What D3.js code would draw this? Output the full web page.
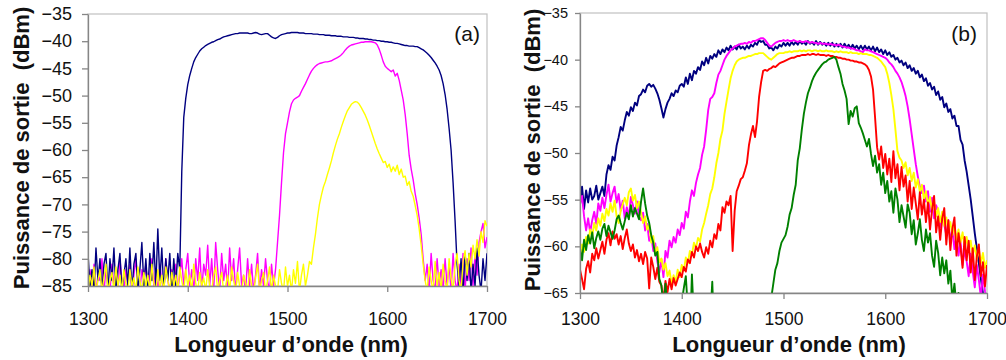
<!DOCTYPE html>
<html>
<head>
<meta charset="utf-8">
<script src="https://cdn.jsdelivr.net/npm/d3@7/dist/d3.min.js"></script>
<style>
  body { margin: 0; background: #fff; }
  svg { display: block; font-family: Arial, "Liberation Sans", sans-serif; }
</style>
</head>
<body>
<script>
// wavelength grid (nm), one reading every 2 nm
const wavelengths = d3.range(1300, 1701, 2);

// panel (a) spectra, dBm
const navyA = [
  -79, -85, -82, -86, -78, -84, -80, -86, -81, -79,
  -86, -80, -84, -78, -86, -82, -79, -86, -83, -80,
  -85, -78, -86, -81, -79, -86, -82, -77, -85, -80,
  -86, -79, -84, -77, -85, -74.5, -84, -78, -86, -80,
  -84, -79, -86, -80, -85, -79, -82, -64, -54, -50.5,
  -48, -46.3, -45, -43.8, -43, -42.4, -41.8, -41.4, -41.1, -40.8,
  -40.6, -40.4, -40.2, -40.1, -39.9, -39.7, -39.6, -39.4, -39.2, -39.1,
  -39.0, -38.9, -38.8, -38.7, -38.6, -38.6, -38.5, -38.5, -38.5, -38.5,
  -38.5, -38.6, -38.6, -38.5, -38.4, -38.5, -38.7, -38.8, -38.7, -38.6,
  -38.6, -38.9, -39.2, -39.4, -39.5, -39.3, -39.0, -38.8, -38.7, -38.6,
  -38.5, -38.5, -38.4, -38.4, -38.4, -38.4, -38.5, -38.5, -38.5, -38.6,
  -38.6, -38.6, -38.6, -38.7, -38.7, -38.7, -38.8, -38.8, -38.8, -38.9,
  -38.9, -38.9, -39.0, -39.0, -39.0, -39.1, -39.1, -39.1, -39.2, -39.2,
  -39.2, -39.3, -39.3, -39.3, -39.4, -39.4, -39.5, -39.5, -39.5, -39.6,
  -39.6, -39.7, -39.7, -39.8, -39.8, -39.9, -39.9, -40.0, -40.0, -40.1,
  -40.1, -40.2, -40.2, -40.3, -40.4, -40.4, -40.5, -40.6, -40.7, -40.8,
  -40.8, -40.9, -40.9, -40.9, -41.0, -41.0, -41.2, -41.4, -41.6, -41.9,
  -42.2, -42.6, -43.0, -43.5, -44.0, -44.6, -45.3, -46.3, -47.8, -49.8,
  -52.5, -56, -60, -66, -73, -81, -85, -80, -86, -79,
  -84, -79, -86, -81, -85, -78, -83, -86, -80, -84,
  -79
];
const magentaA = [
  -86, -82, -85, -81, -86, -83, -84, -80, -86, -82,
  -84, -86, -81, -85, -83, -86, -80, -84, -86, -82,
  -85, -81, -86, -83, -80, -85, -86, -82, -84, -81,
  -86, -83, -80, -85, -82, -86, -81, -84, -86, -80,
  -84, -86, -82, -85, -81, -86, -83, -80, -85, -82,
  -79, -85, -82, -86, -80, -84, -78, -86, -81, -83,
  -77.5, -85, -80, -86, -77, -82, -86, -79, -84, -81,
  -86, -78, -84, -80, -86, -82, -78, -85, -83, -86,
  -80, -85, -81, -86, -83, -79, -86, -82, -85, -80,
  -84, -86, -81, -85, -82, -77, -72, -66, -60.5, -57,
  -55, -53, -51.5, -50.8, -50.5, -50.3, -50, -49.2, -48.5, -47.8,
  -47, -46.2, -45.5, -45, -44.6, -44.3, -44.1, -44, -43.9, -43.8,
  -43.8, -43.7, -43.6, -43.4, -43.2, -43, -42.8, -42.5, -42.1, -41.6,
  -41.2, -40.9, -40.7, -40.6, -40.5, -40.4, -40.3, -40.2, -40.2, -40.1,
  -40.1, -40.1, -40.1, -40.2, -40.3, -40.7, -41.5, -42.6, -43.8, -44.6,
  -45.0, -45.3, -45.6, -45.3, -46.4, -45.9, -47.2, -49, -50.8, -53.5,
  -57, -61, -63.5, -65.5, -68, -70, -72.5, -75.5, -80, -84,
  -81, -86, -79, -84, -86, -80, -85, -82, -86, -80,
  -85, -81, -86, -79, -84, -86, -81, -85, -79, -86,
  -80, -84, -78, -85, -79, -83, -77, -75, -73.5, -78,
  -76
];
const yellowA = [
  -86, -83, -85, -81.5, -86, -84, -82, -86, -83.5, -81,
  -86, -84, -82.5, -86, -81.5, -85, -83, -86, -82, -84.5,
  -86, -82, -85, -83.5, -86, -81.5, -84, -86, -82.5, -85,
  -83, -86, -81, -84.5, -86, -82, -85.5, -83, -86, -81.5,
  -84, -86, -82.5, -85, -83, -86, -81.5, -84, -86, -82,
  -85, -83, -86, -81, -84.5, -86, -82.5, -85, -83.5, -86,
  -82, -85, -86, -83, -81.5, -86, -84, -82.5, -86, -85,
  -83, -86, -81.5, -84, -86, -82.5, -85, -86, -83, -84.5,
  -86, -82, -85, -86, -83.5, -81, -86, -84, -82.5, -86,
  -84, -81.5, -86, -83, -85, -86, -82, -84.5, -86, -81.5,
  -85, -83, -86, -82, -84.5, -80.5, -86, -83, -81, -85,
  -83, -80.5, -81, -78, -75.5, -72.5, -70, -68.3, -66.8, -65.8,
  -64.5, -63.3, -62, -60.5, -59.2, -58, -57, -55.8, -54.7, -53.7,
  -52.8, -52.2, -51.6, -51.3, -51.1, -51.2, -51.6, -52.2, -52.9, -53.6,
  -54.5, -55.5, -56.6, -57.7, -58.8, -59.8, -60.7, -61.5, -62.3, -62.1,
  -63.2, -62.6, -64, -63.1, -63.9, -62.8, -64.5, -63.5, -65, -64.8,
  -66.5, -65.8, -67.6, -68.5, -70.2, -72, -74.5, -77.5, -81, -84,
  -86, -81.5, -84, -86, -80.5, -85, -82.5, -86, -81, -84,
  -86, -80, -83.5, -86, -81, -79, -84, -86, -80.5, -78.5,
  -83, -79, -81.5, -77.5, -80, -76.5, -79.5, -75, -77, -73,
  -74
];

// panel (b) spectra, dBm
const navyB = [
  -55.5, -53.6, -56, -54, -55.3, -53.8, -55, -54.6, -53.5, -55,
  -54.3, -53.6, -54.6, -52.3, -51.3, -51.8, -50.4, -50.8, -49.2, -48.3,
  -47.2, -47.6, -46.5, -45.6, -46, -45.1, -45.5, -44.6, -44.9, -43.9,
  -43.7, -43.2, -43.5, -42.8, -42.6, -42.9, -42.7, -43.1, -43.6, -44.3,
  -45.2, -46.2, -45.3, -44.6, -44.2, -43.6, -43.9, -43.3, -43.5, -42.8,
  -42.6, -42.9, -41.9, -42.6, -41.5, -42.2, -41.2, -41.5, -40.8, -41.1,
  -40.2, -40.6, -39.8, -40.4, -39.6, -39.9, -39.4, -39.7, -39.0, -39.4,
  -38.9, -39.2, -38.7, -39.0, -38.5, -38.9, -38.6, -38.9, -38.4, -38.8,
  -38.6, -38.9, -38.5, -38.8, -38.4, -38.6, -38.2, -38.4, -37.9, -38.1,
  -38.0, -38.4, -38.4, -38.8, -38.7, -39.0, -38.6, -38.8, -38.4, -38.6,
  -38.2, -38.5, -38.2, -38.5, -38.1, -38.4, -38.1, -38.4, -38.0, -38.3,
  -38.1, -38.4, -38.0, -38.3, -38.1, -38.4, -38.0, -38.4, -38.1, -38.4,
  -38.2, -38.5, -38.2, -38.5, -38.2, -38.6, -38.3, -38.6, -38.3, -38.7,
  -38.3, -38.7, -38.4, -38.8, -38.4, -38.8, -38.5, -38.9, -38.5, -38.9,
  -38.5, -38.9, -38.6, -39.0, -38.6, -39.1, -38.7, -39.2, -38.9, -39.4,
  -39.0, -39.5, -39.2, -39.7, -39.5, -40.0, -39.8, -40.3, -40.1, -40.6,
  -40.3, -40.9, -40.6, -41.2, -40.9, -41.5, -41.2, -41.9, -41.6, -42.3,
  -42.0, -42.8, -42.5, -43.2, -42.9, -43.8, -43.4, -44.3, -44.0, -45.1,
  -44.7, -45.6, -45.3, -46.3, -46.0, -47.1, -47.1, -48.6, -49.1, -50.8,
  -52, -53.5, -55, -56.8, -58.6, -60.2, -61.8, -63.5, -65, -66.5,
  -68
];
const magentaB = [
  -55.5, -54.6, -56.8, -58.3, -57, -58.5, -57.2, -56.3, -57.6, -55.4,
  -56.2, -54.8, -55.9, -54.5, -53.4, -55.2, -54.3, -53.6, -55.3, -54.4,
  -56.2, -55.1, -57, -55.8, -56.9, -54.7, -55.6, -56.5, -55.2, -56.8,
  -57.2, -56.4, -58.3, -57.6, -59.4, -58.8, -60.5, -59.7, -61.6, -62.8,
  -61.4, -63.3, -60.5, -61.2, -59.4, -60.1, -59, -59.6, -58.2, -58.8,
  -57.5, -58.1, -56.3, -56.9, -55.2, -54, -54.6, -53.2, -52.3, -51.6,
  -50.2, -49.3, -47.5, -45.4, -44.2, -44, -43.6, -42.5, -41.6, -41.2,
  -40.6, -40, -39.6, -39.3, -39, -38.8, -38.6, -38.5, -38.4, -38.3,
  -38.3, -38.2, -38.3, -38.1, -38.2, -38, -38, -37.9, -37.8, -37.7,
  -37.7, -37.9, -38.2, -38.5, -38.6, -38.4, -38.2, -38.1, -38, -38,
  -37.9, -38, -37.9, -38, -38, -37.9, -38, -38.1, -38, -38.1,
  -38.1, -38, -38.1, -38.2, -38.1, -38.2, -38.2, -38.3, -38.2, -38.3,
  -38.3, -38.3, -38.4, -38.3, -38.4, -38.4, -38.5, -38.4, -38.5, -38.6,
  -38.6, -38.7, -38.7, -38.8, -38.8, -38.9, -39, -39, -39.1, -39.2,
  -38.9, -39.0, -39.0, -39.1, -39.2, -39.3, -39.4, -39.5, -39.6, -39.7,
  -39.8, -40.0, -40.3, -40.5, -40.8, -41.2, -41.5, -41.9, -42.4, -43.1,
  -43.9, -45, -46.4, -48, -49.6, -51.2, -52.5, -53.6, -54.3, -53.5,
  -55.2, -54.1, -56.3, -54.8, -57, -55.6, -56.2, -58, -56.5, -57.7,
  -58.8, -57.2, -59.6, -58.1, -60.3, -58.9, -61, -59.5, -62, -60.4,
  -61.6, -63.2, -60.8, -62.7, -64.4, -62, -63.6, -65.5, -63, -64.8,
  -66
];
const yellowB = [
  -61.2, -59.8, -60.6, -59, -59.7, -58.2, -58.9, -57.5, -58.3, -57,
  -57.8, -56.5, -57.3, -56, -56.7, -55.4, -56.3, -55.1, -56.8, -57.5,
  -56.2, -55.5, -54.8, -55.6, -54.2, -53.8, -55.1, -54.5, -55.9, -55.2,
  -56.4, -57.5, -56.8, -58.2, -57.7, -59.6, -58.9, -60.8, -60.1, -61.7,
  -61.3, -62.5, -61.8, -63.2, -62.6, -64, -63.1, -63.8, -62.5, -63.3,
  -62, -62.6, -61.2, -61.8, -60.5, -60.9, -59.6, -60.2, -59.1, -59.5,
  -58.2, -57.5, -56.5, -55.6, -54.4, -53.8, -52.6, -51.1, -50.0, -48.5,
  -47.6, -45.8, -44.5, -43.2, -42, -41.2, -40.6, -40.2, -40, -39.9,
  -39.8, -39.8, -39.7, -39.6, -39.6, -39.5, -39.4, -39.4, -39.3, -39.3,
  -39.3, -39.5, -39.7, -39.9, -40, -39.8, -39.6, -39.4, -39.3, -39.3,
  -39.3, -39.2, -39.2, -39.1, -39.2, -39.1, -39.1, -39.1, -39.0, -39.1,
  -39.0, -39.1, -39.0, -39.0, -39.1, -39.0, -39.0, -39.1, -39.0, -39.1,
  -39.1, -39.0, -39.1, -39.1, -39.1, -39.2, -39.1, -39.2, -39.1, -39.2,
  -39.2, -39.2, -39.3, -39.2, -39.3, -39.3, -39.3, -39.4, -39.3, -39.4,
  -39.4, -39.4, -39.5, -39.5, -39.6, -39.7, -39.8, -40.0, -40.2, -40.5,
  -40.8, -41.5, -42.5, -43.8, -45.3, -47.5, -49.8, -50.5, -50.8, -51.6,
  -51, -52.4, -51.6, -53, -52.1, -53.7, -52.8, -54.2, -53.4, -55,
  -54.1, -55.6, -54.7, -56.3, -55.2, -56.8, -55.9, -57.4, -56.3, -57.8,
  -56.9, -58.3, -57.4, -58.8, -57.7, -59.3, -58.2, -59.6, -58.5, -60.1,
  -59, -60.5, -59.4, -61, -59.9, -61.4, -60.3, -61.8, -60.7, -62.3,
  -61.5
];
const redB = [
  -62.5, -63.5, -64.6, -62.4, -61.6, -62.8, -60.8, -61.5, -60.2, -61.3,
  -60.4, -59.5, -60.8, -59.3, -58.6, -59.9, -58.4, -59.2, -58.7, -59.8,
  -58.9, -60.3, -59.1, -58.2, -59.7, -60.5, -59.8, -61.2, -60.4, -61.6,
  -60.8, -61.9, -60.6, -61.3, -64.5, -61.2, -62.2, -63.5, -62.3, -63.8,
  -64.2, -65.8, -63.7, -64.9, -63.5, -64.6, -63.4, -64.2, -63.5, -62.8,
  -63.3, -62.2, -62.7, -61.4, -61.8, -60.6, -61.2, -60, -60.5, -59.7,
  -60.6, -61.2, -60.1, -60.8, -59.4, -60.1, -58.7, -59.2, -57.6, -58.3,
  -55.8, -56.4, -55.2, -55.6, -54.6, -60.5, -56.2, -54.1, -53.5, -52.8,
  -52.6, -51.9, -51.1, -49.2, -48, -47.1, -48.3, -46.6, -44, -42.4,
  -41.2, -41.1, -41.2, -41, -40.9, -40.7, -40.8, -40.6, -40.4, -40.3,
  -40.2, -40.1, -40, -39.9, -39.8, -39.8, -39.7, -39.6, -39.6, -39.5,
  -39.5, -39.5, -39.4, -39.5, -39.4, -39.4, -39.5, -39.4, -39.5, -39.5,
  -39.5, -39.6, -39.5, -39.6, -39.6, -39.7, -39.7, -39.8, -39.8, -39.9,
  -39.9, -40, -40, -40.1, -40.1, -40.2, -40.2, -40.3, -40.3, -40.4,
  -40.5, -40.7, -41.1, -41.8, -43.2, -46.2, -49.4, -50.7, -49.3, -51.6,
  -50.1, -52.3, -50.6, -53.1, -49.8, -52.7, -51.2, -54, -51.5, -53.6,
  -52.4, -55.2, -53, -56, -53.7, -55.4, -57.1, -54.2, -56.6, -55,
  -57.4, -55.3, -58.2, -56.1, -54.6, -58.5, -56.8, -59.3, -57, -55.9,
  -59.8, -57.2, -60.4, -58.1, -56.9, -61, -58.6, -60.1, -62.3, -59,
  -61.5, -59.4, -62.8, -60.2, -63.6, -61.1, -59.8, -63.2, -61.7, -64.3,
  -62
];
const greenB = [
  -60.2, -61.5, -59.3, -60.4, -58.8, -59.7, -58.5, -60.2, -59.1, -58.4,
  -59.3, -58.1, -57.6, -58.9, -57.8, -58.5, -59.2, -58.3, -57.1, -56.7,
  -57.5, -58.2, -57.3, -56.4, -57.1, -55.6, -56.8, -55.9, -56.5, -57.1,
  -55.2, -53.8, -55.4, -56.7, -57.5, -58.8, -59.6, -61, -60.6, -63.5,
  -64.2, -66.5, -64, -67, -68, -66, -69, -67, -70, -68,
  -66, -64.5, -63.2, -66.8, -70, -63, -68, -71, -67, -70,
  -69, -72, -66, -70, -68, -63.8, -70, -73, -70, -72,
  -74, -71, -75, -72, -76, -73, -75, -77, -74, -76,
  -78, -75, -77, -79, -76, -78, -75, -77, -74, -72,
  -73, -71, -72, -69, -65.5, -64, -62.5, -61.8, -60.5, -59.6,
  -59.2, -58.8, -57.9, -56.6, -55.9, -54.5, -53.4, -50.8, -49.5, -47.5,
  -45.8, -44.6, -43.6, -43, -42.3, -41.8, -41.4, -41.1, -40.8, -40.5,
  -40.3, -40.2, -40, -39.9, -39.8, -39.7, -40, -40.8, -41.5, -42.6,
  -43.3, -44.2, -46.9, -45.5, -46.1, -45.2, -45, -46.8, -47.3, -47.9,
  -48.6, -49.3, -48.5, -50.1, -51.4, -50.3, -52.1, -51.2, -53.4, -52.1,
  -54.3, -53, -55.2, -54.1, -56.4, -53.8, -55, -57.4, -55.6, -56.8,
  -58, -55.5, -56.4, -58.7, -57.2, -59.8, -58.6, -57.1, -59.3, -60.5,
  -58.2, -59.6, -58.6, -61, -62.2, -59.4, -60.7, -63.1, -61.2, -62.9,
  -61.5, -64, -62.6, -65.8, -64, -66.5, -65, -67.5, -66, -68,
  -67, -69, -66.5, -68.5, -70, -67.5, -69.5, -71, -68, -70,
  -70
];

const xTicks = [1300, 1400, 1500, 1600, 1700];
const yTicksA = [-85, -80, -75, -70, -65, -60, -55, -50, -45, -40, -35];
const yTicksB = [-65, -60, -55, -50, -45, -40, -35];

const svg = d3.select("body").append("svg")
  .attr("width", 1006)
  .attr("height", 360);

function drawPanel(p) {
  let x = d3.scaleLinear().domain([1300, 1700]).range([p.left, p.right]);
  let y = d3.scaleLinear().domain(p.yDomain).range([p.bottom, p.top]);

  let g = svg.append("g");

  // plot area border
  g.append("rect")
    .attr("x", p.left).attr("y", p.top)
    .attr("width", p.right - p.left).attr("height", p.bottom - p.top)
    .attr("fill", "none")
    .attr("stroke", "#c0c0c0")
    .attr("stroke-width", 1.2);

  g.append("clipPath").attr("id", "clip-" + p.id)
    .append("rect")
    .attr("x", p.left).attr("y", p.top)
    .attr("width", p.right - p.left).attr("height", p.bottom - p.top);

  let line = d3.line()
    .x((d, i) => x(wavelengths[i]))
    .y(d => y(d));

  g.append("g").attr("clip-path", `url(#clip-${p.id})`)
    .selectAll("path")
    .data(p.series)
    .enter()
    .append("path")
      .attr("d", s => line(s.values))
      .attr("fill", "none")
      .attr("stroke", s => s.color)
      .attr("stroke-width", p.lineWidth)
      .attr("stroke-linejoin", "round");

  let xAxis = g.append("g")
    .attr("transform", `translate(0,${p.bottom})`)
    .call(d3.axisBottom(x).tickValues(xTicks).tickFormat(d3.format("d"))
      .tickSize(6).tickSizeOuter(0).tickPadding(p.xPad));
  let yAxis = g.append("g")
    .attr("transform", `translate(${p.left},0)`)
    .call(d3.axisLeft(y).tickValues(p.yTicks).tickFormat(d3.format("d"))
      .tickSize(p.yTick).tickSizeOuter(0).tickPadding(p.yPad));

  [xAxis, yAxis].forEach(a => {
    a.select(".domain").attr("stroke", "#868686").attr("stroke-width", 1.3);
    a.selectAll(".tick line").attr("stroke", "#868686").attr("stroke-width", 1.3);
    a.selectAll("text")
      .attr("fill", "#111")
      .style("font-family", "Arial, 'Liberation Sans', sans-serif");
  });
  xAxis.selectAll("text").style("font-size", "17.5px");
  yAxis.selectAll("text").style("font-size", p.yFont);

  // axis titles
  g.append("text")
    .attr("x", p.xTitleX).attr("y", 352)
    .attr("text-anchor", "middle")
    .style("font-size", "22px").style("font-weight", "bold")
    .attr("fill", "#111")
    .text("Longueur d\u2019onde (nm)");

  g.append("text")
    .attr("transform", `translate(${p.yTitleX},${p.yTitleY}) rotate(-90)`)
    .attr("text-anchor", "middle")
    .style("font-size", "22px").style("font-weight", "bold")
    .style("white-space", "pre")
    .attr("fill", "#111")
    .text("Puissance de sortie  (dBm)");

  g.append("text")
    .attr("x", p.tagX).attr("y", 41)
    .attr("text-anchor", "end")
    .style("font-size", "21px")
    .attr("fill", "#111")
    .text(p.tag);
}

drawPanel({
  id: "a", left: 88, right: 487, top: 14, bottom: 286,
  yDomain: [-85, -35], yTicks: yTicksA, yTick: 6, yPad: 10, yFont: "18px", xPad: 20.5,
  lineWidth: 1.4,
  xTitleX: 291, yTitleX: 29, yTitleY: 148, tagX: 480, tag: "(a)",
  series: [
    { color: "#ff00ff", values: magentaA },
    { color: "#000080", values: navyA },
    { color: "#ffff00", values: yellowA }
  ]
});

drawPanel({
  id: "b", left: 580, right: 987, top: 13, bottom: 293,
  yDomain: [-65, -35], yTicks: yTicksB, yTick: 5, yPad: 7, yFont: "14.5px", xPad: 13.5,
  lineWidth: 1.9,
  xTitleX: 789, yTitleX: 540, yTitleY: 150, tagX: 977, tag: "(b)",
  series: [
    { color: "#000080", values: navyB },
    { color: "#ff00ff", values: magentaB },
    { color: "#ffff00", values: yellowB },
    { color: "#ff0000", values: redB },
    { color: "#008000", values: greenB }
  ]
});
</script>
</body>
</html>
